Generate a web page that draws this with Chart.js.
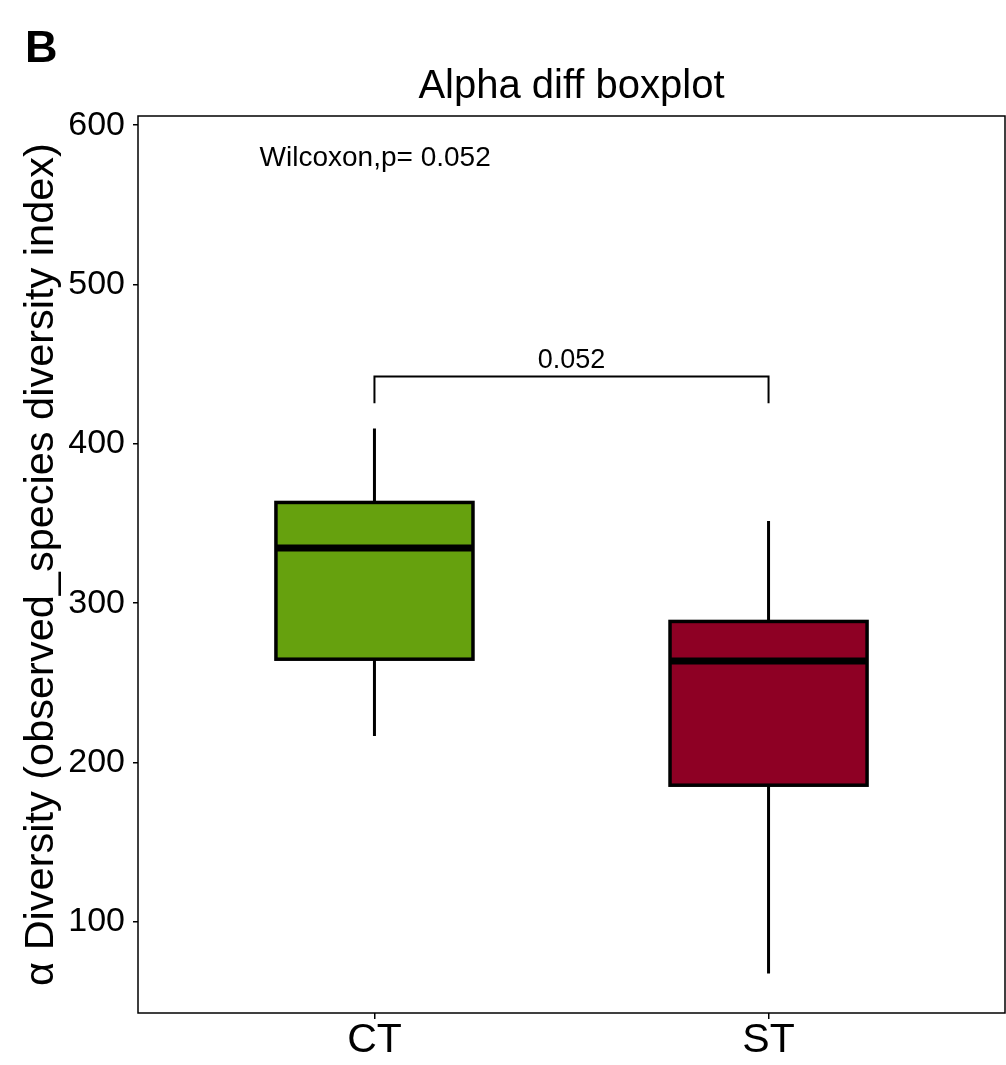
<!DOCTYPE html>
<html>
<head>
<meta charset="utf-8">
<title>Alpha diff boxplot</title>
<script src="https://cdn.jsdelivr.net/npm/chart.js@4.4.0/dist/chart.umd.min.js"></script>
<style>
  html, body { margin: 0; padding: 0; background: #fff; }
  canvas { display: block; }
</style>
</head>
<body>
<canvas id="alphaBox" width="1006" height="1065"></canvas>
<script>
// observed_species per group: whiskers, quartiles, medians
const groups = ['CT', 'ST'];
const whiskerLow = [216.6, 67.5];
const boxLow = [264.8, 185.7];
const medians = [334.6, 263.7];
const boxHigh = [363.2, 288.5];
const whiskerHigh = [409.6, 351.6];
const fills = ['#66A10E', '#8E0024'];
const yTicks = [100, 200, 300, 400, 500, 600];

// wilcoxon test annotation
const testLabel = 'Wilcoxon,p= 0.052';
const pLabel = '0.052';
const bracketY = 442.2;
const bracketTip = 425.4;

const FONT = '"Liberation Sans", Arial, Helvetica, sans-serif';

const boxplotExtras = {
  id: 'boxplotExtras',
  beforeDatasetsDraw(chart) {
    const {ctx, scales: {x, y}} = chart;
    ctx.save();
    ctx.strokeStyle = '#000';
    ctx.lineWidth = 3;
    groups.forEach((g, i) => {
      const px = x.getPixelForValue(i + 1);
      ctx.beginPath();
      ctx.moveTo(px, y.getPixelForValue(whiskerLow[i]));
      ctx.lineTo(px, y.getPixelForValue(whiskerHigh[i]));
      ctx.stroke();
    });
    ctx.restore();
  },
  afterDatasetsDraw(chart) {
    const {ctx, chartArea: a, scales: {x, y}} = chart;
    const meta = chart.getDatasetMeta(0);
    ctx.save();
    ctx.strokeStyle = '#000';

    // box outlines and medians
    meta.data.forEach((bar, i) => {
      const half = bar.width / 2;
      const top = Math.min(bar.y, bar.base);
      const h = Math.abs(bar.base - bar.y);
      ctx.lineWidth = 3.5;
      ctx.strokeRect(bar.x - half, top, half * 2, h);
      const my = y.getPixelForValue(medians[i]);
      ctx.lineWidth = 7;
      ctx.beginPath();
      ctx.moveTo(bar.x - half, my);
      ctx.lineTo(bar.x + half, my);
      ctx.stroke();
    });

    // panel frame
    ctx.lineWidth = 1.5;
    ctx.strokeRect(a.left, a.top, a.right - a.left, a.bottom - a.top);

    // comparison bracket
    const x1 = x.getPixelForValue(1), x2 = x.getPixelForValue(2);
    const by = y.getPixelForValue(bracketY), ty = y.getPixelForValue(bracketTip);
    ctx.lineWidth = 2;
    ctx.beginPath();
    ctx.moveTo(x1, ty);
    ctx.lineTo(x1, by);
    ctx.lineTo(x2, by);
    ctx.lineTo(x2, ty);
    ctx.stroke();

    ctx.fillStyle = '#000';
    ctx.font = '27px ' + FONT;
    ctx.textAlign = 'center';
    ctx.textBaseline = 'alphabetic';
    ctx.fillText(pLabel, (x1 + x2) / 2, y.getPixelForValue(447.8));

    ctx.font = '28px ' + FONT;
    ctx.textAlign = 'left';
    ctx.fillText(testLabel, x.getPixelForValue(0.7085), y.getPixelForValue(574.5));
    ctx.restore();
  },
  afterDraw(chart) {
    const {ctx, chartArea: a} = chart;
    ctx.save();
    ctx.fillStyle = '#000';
    ctx.textBaseline = 'alphabetic';
    ctx.textAlign = 'center';
    ctx.font = '40px ' + FONT;
    ctx.fillText('Alpha diff boxplot', (a.left + a.right) / 2, 98);
    ctx.textAlign = 'left';
    ctx.font = 'bold 45px ' + FONT;
    ctx.fillText('B', 25, 62);
    ctx.restore();
  }
};

new Chart(document.getElementById('alphaBox'), {
  type: 'bar',
  data: {
    datasets: [{
      data: groups.map((g, i) => ({x: i + 1, y: [boxLow[i], boxHigh[i]]})),
      backgroundColor: fills,
      borderWidth: 0,
      barPercentage: 0.5,
      categoryPercentage: 1
    }]
  },
  options: {
    responsive: false,
    animation: false,
    devicePixelRatio: 1,
    layout: {padding: {top: 116, right: 1, left: 0, bottom: 0}},
    plugins: {
      legend: {display: false},
      tooltip: {enabled: false}
    },
    scales: {
      x: {
        type: 'linear',
        min: 0.4,
        max: 2.6,
        offset: false,
        afterBuildTicks: scale => { scale.ticks = groups.map((g, i) => ({value: i + 1})); },
        afterFit: scale => { scale.height = 52; },
        ticks: {
          callback: v => groups[v - 1],
          color: '#000',
          font: {family: FONT, size: 41, lineHeight: 1},
          padding: 1,
          maxRotation: 0
        },
        grid: {drawOnChartArea: false, offset: false, tickLength: 6, color: '#000', lineWidth: 1.5},
        border: {display: false}
      },
      y: {
        type: 'linear',
        min: 42.7,
        max: 605.8,
        afterBuildTicks: scale => { scale.ticks = yTicks.map(v => ({value: v})); },
        afterFit: scale => { scale.width = 138; },
        ticks: {
          color: '#000',
          font: {family: FONT, size: 34},
          padding: 8
        },
        grid: {drawOnChartArea: false, tickLength: 5, color: '#000', lineWidth: 1.5},
        border: {display: false},
        title: {
          display: true,
          text: 'α Diversity (observed_species diversity index)',
          color: '#000',
          font: {family: FONT, size: 41.5, lineHeight: 1},
          padding: {top: 21, bottom: 0}
        }
      }
    }
  },
  plugins: [boxplotExtras]
});
</script>
</body>
</html>
